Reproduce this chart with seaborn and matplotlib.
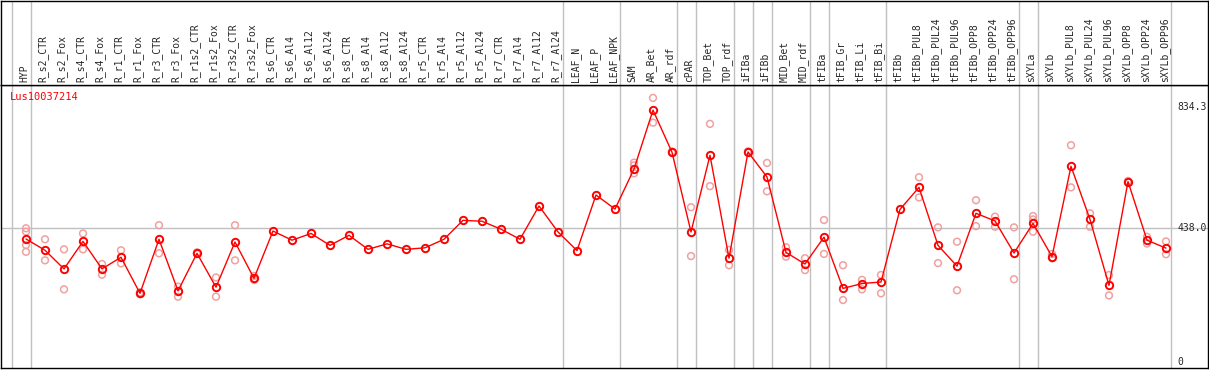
import numpy as np
import pandas as pd
import seaborn as sns
import matplotlib.pyplot as plt

samples = ["HYP", "R_s2_CTR", "R_s2_Fox", "R_s4_CTR", "R_s4_Fox", "R_r1_CTR", "R_r1_Fox",
           "R_r3_CTR", "R_r3_Fox", "R_r1s2_CTR", "R_r1s2_Fox", "R_r3s2_CTR", "R_r3s2_Fox",
           "R_s6_CTR", "R_s6_Al4", "R_s6_Al12", "R_s6_Al24", "R_s8_CTR", "R_s8_Al4", "R_s8_Al12",
           "R_s8_Al24", "R_r5_CTR", "R_r5_Al4", "R_r5_Al12", "R_r5_Al24", "R_r7_CTR", "R_r7_Al4",
           "R_r7_Al12", "R_r7_Al24", "LEAF_N", "LEAF_P", "LEAF_NPK", "SAM", "AR_Bet", "AR_rdf",
           "cPAR", "TOP_Bet", "TOP_rdf", "iFIBa", "iFIBb", "MID_Bet", "MID_rdf", "tFIBa",
           "tFIB_Gr", "tFIB_Li", "tFIB_Bi", "tFIBb", "tFIBb_PUL8", "tFIBb_PUL24", "tFIBb_PUL96",
           "tFIBb_OPP8", "tFIBb_OPP24", "tFIBb_OPP96", "sXYLa", "sXYLb", "sXYLb_PUL8",
           "sXYLb_PUL24", "sXYLb_PUL96", "sXYLb_OPP8", "sXYLb_OPP24", "sXYLb_OPP96"]

# mean expression per sample
means = [403, 366, 305, 395, 305, 343, 225, 402, 233, 356, 245, 393, 274,
         429, 399, 421, 382, 415, 369, 387, 369, 374, 402, 464, 461, 435, 402, 511, 426,
         365, 547, 501, 632, 825, 687, 426, 677, 340, 688, 606, 359, 321, 409,
         241, 257, 262, 500, 572, 382, 314, 487, 462, 357, 454, 345, 641, 467, 251,
         591, 399, 373]

# individual replicates (empty where none shown)
replicates = [[438, 427, 383, 361], [402, 333], [369, 238], [421, 369], [321, 286],
              [366, 323], [228, 222], [448, 356], [247, 214], [359, 354], [277, 214],
              [448, 333], [282, 269],
              [], [], [], [], [], [], [], [], [], [], [], [], [], [], [], [], [], [], [],
              [653, 644, 618], [865, 784], [689, 685], [507, 347], [780, 576], [367, 317],
              [690, 686], [652, 559], [376, 345], [340, 301], [465, 354], [317, 203],
              [269, 238], [285, 225], [], [605, 539], [441, 324], [394, 235], [530, 445],
              [476, 443], [441, 271], [478, 467, 427], [354, 340], [710, 572], [487, 443],
              [285, 218], [593, 589], [410, 388], [395, 353]]

# group separators (drawn just right of these column indices)
separators = [-1, 0, 28, 31, 34, 35, 37, 38, 39, 41, 42, 45, 52, 53, 60]

gene = "Lus10037214"
y_ticks = [834.3, 438.0, 0]

mean_df = pd.DataFrame({"pos": np.arange(len(samples)), "value": means})
rep_rows = [(i, v) for i, reps in enumerate(replicates) for v in reps]
rep_df = pd.DataFrame(rep_rows, columns=["pos", "value"])

sns.set_style("white")
plt.rcParams["font.family"] = ["DejaVu Sans Mono"]

W, H = 1209, 370
fig = plt.figure(figsize=(W / 100, H / 100), dpi=100)

x_left = (1 - 26) / 19
x_right = (1208 - 26) / 19
ppu = 0.3053
y_lo = -(368 - 362) / ppu
y_hi = (362 - 85) / ppu

ax = fig.add_axes([1 / W, (H - 368) / H, 1207 / W, 283 / H])
head = fig.add_axes([1 / W, (H - 85) / H, 1207 / W, 84.5 / H])

for a in (ax, head):
    a.set_xlim(x_left, x_right)
    a.set_xticks([])
    a.set_yticks([])
    for sp in a.spines.values():
        sp.set_color("black")
        sp.set_linewidth(1.0)
    for s in separators:
        a.axvline(s + 0.24, color="#c0c0c0", lw=1, zorder=0)
head.set_ylim(0, 1)

ax.set_ylim(y_lo, y_hi)
ax.axhline(438.0, color="#c0c0c0", lw=1, zorder=0)

sns.scatterplot(data=rep_df, x="pos", y="value", ax=ax, marker="o", s=24,
                facecolor="none", edgecolor="#f0a0a0", linewidth=1.1, zorder=2, legend=False)
sns.lineplot(data=mean_df, x="pos", y="value", ax=ax, color="red", lw=1,
             marker="o", markersize=5.3, markerfacecolor="none", markeredgecolor="red",
             markeredgewidth=1.4, zorder=3, legend=False)
ax.set_xlabel("")
ax.set_ylabel("")
ax.set_xlim(x_left, x_right)
ax.set_ylim(y_lo, y_hi)

for i, name in enumerate(samples):
    head.text(i - 0.1, 0.03, name, rotation=90, ha="center", va="bottom", fontsize=7)

for v in y_ticks:
    label = "0" if v == 0 else f"{v:.1f}"
    ax.text(60.62, v, label, ha="left", va="center", fontsize=7, clip_on=True)

fig.text(10 / W, 1 - 97 / H, gene, color="red", fontsize=7.5, ha="left", va="center")

fig.savefig("out.png", dpi=100)
